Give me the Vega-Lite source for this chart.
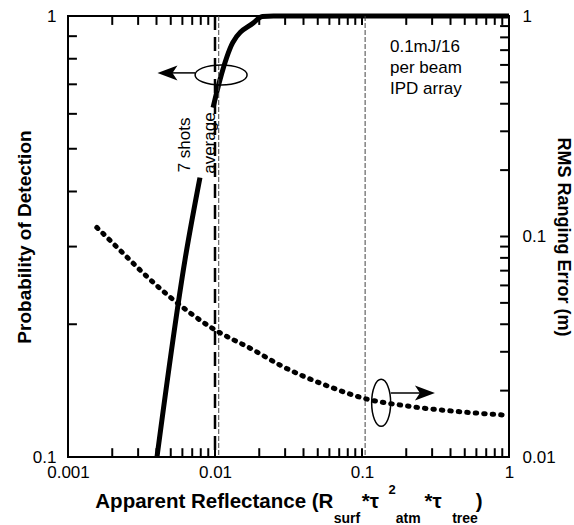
{
  "$schema": "https://vega.github.io/schema/vega-lite/v6.json",
  "width": 441,
  "height": 441,
  "autosize": {"type": "none"},
  "padding": {"left": 68, "top": 16, "right": 65, "bottom": 68},
  "background": "white",
  "config": {
    "font": "Liberation Sans",
    "view": {"stroke": "black", "strokeWidth": 2},
    "axis": {
      "domain": false,
      "ticks": false,
      "labelColor": "black",
      "labelFontSize": 17,
      "labelFont": "Liberation Sans",
      "titleFont": "Liberation Sans",
      "titleColor": "black",
      "titleFontWeight": "bold",
      "grid": false,
      "labelFlush": false,
      "labelOverlap": false
    }
  },
  "datasets": {
    "prob": [
      {"x": 0.00403, "p": 0.1, "seg": "a"},
      {"x": 0.00625, "p": 0.28, "seg": "a"},
      {"x": 0.0079, "p": 0.43, "seg": "a"},
      {"x": 0.0097, "p": 0.62, "seg": "b"},
      {"x": 0.0108, "p": 0.716, "seg": "b"},
      {"x": 0.0132, "p": 0.87, "seg": "b"},
      {"x": 0.0182, "p": 0.964, "seg": "b"},
      {"x": 0.021, "p": 0.997, "seg": "b"},
      {"x": 0.025, "p": 1, "seg": "b"},
      {"x": 1, "p": 1, "seg": "b"}
    ],
    "rms": [
      {"x": 0.00157, "r": 0.11},
      {"x": 0.00252, "r": 0.0807},
      {"x": 0.00309, "r": 0.0705},
      {"x": 0.00494, "r": 0.0532},
      {"x": 0.0095, "r": 0.0385},
      {"x": 0.0182, "r": 0.0306},
      {"x": 0.0277, "r": 0.0261},
      {"x": 0.0605, "r": 0.0208},
      {"x": 0.1016, "r": 0.0185},
      {"x": 0.222, "r": 0.0169},
      {"x": 0.486, "r": 0.016},
      {"x": 0.925, "r": 0.0155}
    ],
    "xticks": [
      {"x": 0.002, "lo": 0.1, "hi": 0.1047, "top": 1, "tlo": 0.9545}, {"x": 0.003, "lo": 0.1, "hi": 0.1047, "top": 1, "tlo": 0.9545},
      {"x": 0.004, "lo": 0.1, "hi": 0.1047, "top": 1, "tlo": 0.9545}, {"x": 0.005, "lo": 0.1, "hi": 0.1047, "top": 1, "tlo": 0.9545},
      {"x": 0.006, "lo": 0.1, "hi": 0.1047, "top": 1, "tlo": 0.9545}, {"x": 0.007, "lo": 0.1, "hi": 0.1047, "top": 1, "tlo": 0.9545},
      {"x": 0.008, "lo": 0.1, "hi": 0.1047, "top": 1, "tlo": 0.9545}, {"x": 0.009, "lo": 0.1, "hi": 0.1047, "top": 1, "tlo": 0.9545},
      {"x": 0.01, "lo": 0.1, "hi": 0.1047, "top": 1, "tlo": 0.9545}, {"x": 0.02, "lo": 0.1, "hi": 0.1047, "top": 1, "tlo": 0.9545},
      {"x": 0.03, "lo": 0.1, "hi": 0.1047, "top": 1, "tlo": 0.9545}, {"x": 0.04, "lo": 0.1, "hi": 0.1047, "top": 1, "tlo": 0.9545},
      {"x": 0.05, "lo": 0.1, "hi": 0.1047, "top": 1, "tlo": 0.9545}, {"x": 0.06, "lo": 0.1, "hi": 0.1047, "top": 1, "tlo": 0.9545},
      {"x": 0.07, "lo": 0.1, "hi": 0.1047, "top": 1, "tlo": 0.9545}, {"x": 0.08, "lo": 0.1, "hi": 0.1047, "top": 1, "tlo": 0.9545},
      {"x": 0.09, "lo": 0.1, "hi": 0.1047, "top": 1, "tlo": 0.9545}, {"x": 0.1, "lo": 0.1, "hi": 0.1047, "top": 1, "tlo": 0.9545},
      {"x": 0.2, "lo": 0.1, "hi": 0.1047, "top": 1, "tlo": 0.9545}, {"x": 0.3, "lo": 0.1, "hi": 0.1047, "top": 1, "tlo": 0.9545},
      {"x": 0.4, "lo": 0.1, "hi": 0.1047, "top": 1, "tlo": 0.9545}, {"x": 0.5, "lo": 0.1, "hi": 0.1047, "top": 1, "tlo": 0.9545},
      {"x": 0.6, "lo": 0.1, "hi": 0.1047, "top": 1, "tlo": 0.9545}, {"x": 0.7, "lo": 0.1, "hi": 0.1047, "top": 1, "tlo": 0.9545},
      {"x": 0.8, "lo": 0.1, "hi": 0.1047, "top": 1, "tlo": 0.9545}, {"x": 0.9, "lo": 0.1, "hi": 0.1047, "top": 1, "tlo": 0.9545}
    ],
    "pticks": [
      {"p": 0.2, "a": 0.001, "b": 0.00115}, {"p": 0.3, "a": 0.001, "b": 0.00115}, {"p": 0.4, "a": 0.001, "b": 0.00115},
      {"p": 0.5, "a": 0.001, "b": 0.00115}, {"p": 0.6, "a": 0.001, "b": 0.00115}, {"p": 0.7, "a": 0.001, "b": 0.00115},
      {"p": 0.8, "a": 0.001, "b": 0.00115}, {"p": 0.9, "a": 0.001, "b": 0.00115}
    ],
    "rticks": [
      {"r": 0.02, "a": 1, "b": 0.87}, {"r": 0.03, "a": 1, "b": 0.87}, {"r": 0.04, "a": 1, "b": 0.87}, {"r": 0.05, "a": 1, "b": 0.87},
      {"r": 0.06, "a": 1, "b": 0.87}, {"r": 0.07, "a": 1, "b": 0.87}, {"r": 0.08, "a": 1, "b": 0.87}, {"r": 0.09, "a": 1, "b": 0.87},
      {"r": 0.1, "a": 1, "b": 0.87}, {"r": 0.2, "a": 1, "b": 0.87}, {"r": 0.3, "a": 1, "b": 0.87}, {"r": 0.4, "a": 1, "b": 0.87},
      {"r": 0.5, "a": 1, "b": 0.87}, {"r": 0.6, "a": 1, "b": 0.87}, {"r": 0.7, "a": 1, "b": 0.87}, {"r": 0.8, "a": 1, "b": 0.87},
      {"r": 0.9, "a": 1, "b": 0.87}
    ]
  },
  "layer": [
    {
      "layer": [
        {
          "data": {"name": "prob"},
          "mark": {"type": "line", "color": "black", "strokeWidth": 5, "interpolate": "monotone"},
          "encoding": {
            "x": {
              "field": "x", "type": "quantitative",
              "scale": {"type": "log", "domain": [0.001, 1]},
              "axis": {
                "orient": "bottom",
                "values": [0.001, 0.01, 0.1, 1],
                "format": "~g",
                "labelPadding": 7,
                "title": "Apparent Reflectance (R\u00a0\u00a0\u00a0\u00a0\u00a0*τ\u00a0\u00a0\u00a0\u00a0\u00a0\u00a0\u00a0\u00a0*τ\u00a0\u00a0\u00a0\u00a0\u00a0\u00a0)",
                "titleFontSize": 20.5,
                "titlePadding": 11
              }
            },
            "y": {
              "field": "p", "type": "quantitative",
              "scale": {"type": "log", "domain": [0.1, 1]},
              "axis": {
                "orient": "left",
                "values": [0.1, 1],
                "format": "~g",
                "labelPadding": 12,
                "title": "Probability of Detection",
                "titleFontSize": 19,
                "titlePadding": -2
              }
            },
            "detail": {"field": "seg", "type": "nominal"}
          }
        },
        {
          "data": {"name": "xticks"},
          "mark": {"type": "rule", "color": "black", "strokeWidth": 2},
          "encoding": {
            "x": {"field": "x", "type": "quantitative", "scale": {"type": "log", "domain": [0.001, 1]}},
            "y": {"field": "lo", "type": "quantitative", "scale": {"type": "log", "domain": [0.1, 1]}},
            "y2": {"field": "hi"}
          }
        },
        {
          "data": {"name": "xticks"},
          "mark": {"type": "rule", "color": "black", "strokeWidth": 2},
          "encoding": {
            "x": {"field": "x", "type": "quantitative", "scale": {"type": "log", "domain": [0.001, 1]}},
            "y": {"field": "top", "type": "quantitative", "scale": {"type": "log", "domain": [0.1, 1]}},
            "y2": {"field": "tlo"}
          }
        },
        {
          "data": {"name": "pticks"},
          "mark": {"type": "rule", "color": "black", "strokeWidth": 2},
          "encoding": {
            "y": {"field": "p", "type": "quantitative", "scale": {"type": "log", "domain": [0.1, 1]}},
            "x": {"field": "a", "type": "quantitative", "scale": {"type": "log", "domain": [0.001, 1]}},
            "x2": {"field": "b"}
          }
        },
        {
          "data": {"values": [{"x": 0.01}]},
          "mark": {"type": "rule", "color": "black", "strokeWidth": 2.5, "strokeDash": [14, 7]},
          "encoding": {
            "x": {"field": "x", "type": "quantitative", "scale": {"type": "log", "domain": [0.001, 1]}}
          }
        },
        {
          "data": {"values": [{"x": 0.0106}, {"x": 0.105}]},
          "mark": {"type": "rule", "color": "#444444", "strokeWidth": 1, "strokeDash": [5, 2]},
          "encoding": {
            "x": {"field": "x", "type": "quantitative", "scale": {"type": "log", "domain": [0.001, 1]}}
          }
        },
        {
          "data": {"values": [{"x": 0.011, "p": 0.735}]},
          "mark": {
            "type": "point", "filled": false, "color": "black", "opacity": 1, "strokeWidth": 1.5, "size": 2704,
            "shape": "M 1 0 C 1 0.2126 0.5523 0.385 0 0.385 C -0.5523 0.385 -1 0.2126 -1 0 C -1 -0.2126 -0.5523 -0.385 0 -0.385 C 0.5523 -0.385 1 -0.2126 1 0 Z"
          },
          "encoding": {
            "x": {"field": "x", "type": "quantitative", "scale": {"type": "log", "domain": [0.001, 1]}},
            "y": {"field": "p", "type": "quantitative", "scale": {"type": "log", "domain": [0.1, 1]}}
          }
        },
        {
          "data": {"values": [{"x": 0.00731, "x2": 0.0046, "p": 0.743}]},
          "mark": {"type": "rule", "color": "black", "strokeWidth": 1.5},
          "encoding": {
            "x": {"field": "x", "type": "quantitative", "scale": {"type": "log", "domain": [0.001, 1]}},
            "x2": {"field": "x2"},
            "y": {"field": "p", "type": "quantitative", "scale": {"type": "log", "domain": [0.1, 1]}}
          }
        },
        {
          "data": {"values": [{"x": 0.00475, "p": 0.743}]},
          "mark": {
            "type": "point", "filled": true, "color": "black", "opacity": 1, "size": 400,
            "shape": "M -1 0 L 1 -0.75 L 0.5 0 L 1 0.75 Z"
          },
          "encoding": {
            "x": {"field": "x", "type": "quantitative", "scale": {"type": "log", "domain": [0.001, 1]}},
            "y": {"field": "p", "type": "quantitative", "scale": {"type": "log", "domain": [0.1, 1]}}
          }
        },
        {
          "data": {"values": [{"x": 0.00625, "p": 0.51, "t": "7 shots"}, {"x": 0.00924, "p": 0.515, "t": "average"}]},
          "mark": {"type": "text", "angle": 270, "align": "center", "baseline": "middle", "fontSize": 17, "color": "black", "font": "Liberation Sans"},
          "encoding": {
            "x": {"field": "x", "type": "quantitative", "scale": {"type": "log", "domain": [0.001, 1]}},
            "y": {"field": "p", "type": "quantitative", "scale": {"type": "log", "domain": [0.1, 1]}},
            "text": {"field": "t"}
          }
        },
        {
          "data": {"values": [{"x": 0.155, "p": 0.888, "t": "0.1mJ/16\nper beam\nIPD array"}]},
          "mark": {"type": "text", "align": "left", "baseline": "top", "lineBreak": "\n", "lineHeight": 21, "fontSize": 17, "color": "black", "font": "Liberation Sans"},
          "encoding": {
            "x": {"field": "x", "type": "quantitative", "scale": {"type": "log", "domain": [0.001, 1]}},
            "y": {"field": "p", "type": "quantitative", "scale": {"type": "log", "domain": [0.1, 1]}},
            "text": {"field": "t"}
          }
        },
        {
          "data": {"values": [{"x": 0.079, "t": "surf"}, {"x": 0.206, "t": "atm"}, {"x": 0.502, "t": "tree"}]},
          "mark": {"type": "text", "align": "center", "baseline": "middle", "dy": 62, "fontSize": 14, "fontWeight": "bold", "color": "black", "font": "Liberation Sans"},
          "encoding": {
            "x": {"field": "x", "type": "quantitative", "scale": {"type": "log", "domain": [0.001, 1]}},
            "y": {"datum": 0.1, "type": "quantitative", "scale": {"type": "log", "domain": [0.1, 1]}},
            "text": {"field": "t"}
          }
        },
        {
          "data": {"values": [{"x": 0.16, "t": "2"}]},
          "mark": {"type": "text", "align": "center", "baseline": "middle", "dy": 33, "fontSize": 13, "fontWeight": "bold", "color": "black", "font": "Liberation Sans"},
          "encoding": {
            "x": {"field": "x", "type": "quantitative", "scale": {"type": "log", "domain": [0.001, 1]}},
            "y": {"datum": 0.1, "type": "quantitative", "scale": {"type": "log", "domain": [0.1, 1]}},
            "text": {"field": "t"}
          }
        }
      ]
    },
    {
      "layer": [
        {
          "data": {"name": "rms"},
          "mark": {"type": "line", "color": "black", "strokeWidth": 5, "strokeCap": "round", "strokeDash": [1.5, 7], "interpolate": "monotone"},
          "encoding": {
            "x": {
              "field": "x", "type": "quantitative",
              "scale": {"type": "log", "domain": [0.001, 1]},
              "axis": null
            },
            "y": {
              "field": "r", "type": "quantitative",
              "scale": {"type": "log", "domain": [0.01, 1]},
              "axis": {
                "orient": "right",
                "values": [0.01, 0.1, 1],
                "format": "~g",
                "labelPadding": 13,
                "title": "RMS Ranging Error (m)",
                "titleFontSize": 18,
                "titlePadding": -2
              }
            }
          }
        },
        {
          "data": {"name": "rticks"},
          "mark": {"type": "rule", "color": "black", "strokeWidth": 2},
          "encoding": {
            "y": {"field": "r", "type": "quantitative", "scale": {"type": "log", "domain": [0.01, 1]}},
            "x": {"field": "a", "type": "quantitative", "scale": {"type": "log", "domain": [0.001, 1]}},
            "x2": {"field": "b"}
          }
        },
        {
          "data": {"values": [{"x": 0.135, "r": 0.0176}]},
          "mark": {
            "type": "point", "filled": false, "color": "black", "opacity": 1, "strokeWidth": 1.5, "size": 2209,
            "shape": "M 0.404 0 C 0.404 0.5523 0.2231 1 0 1 C -0.2231 1 -0.404 0.5523 -0.404 0 C -0.404 -0.5523 -0.2231 -1 0 -1 C 0.2231 -1 0.404 -0.5523 0.404 0 Z"
          },
          "encoding": {
            "x": {"field": "x", "type": "quantitative", "scale": {"type": "log", "domain": [0.001, 1]}},
            "y": {"field": "r", "type": "quantitative", "scale": {"type": "log", "domain": [0.01, 1]}}
          }
        },
        {
          "data": {"values": [{"x": 0.157, "x2": 0.281, "r": 0.0195}]},
          "mark": {"type": "rule", "color": "black", "strokeWidth": 1.5},
          "encoding": {
            "x": {"field": "x", "type": "quantitative", "scale": {"type": "log", "domain": [0.001, 1]}},
            "x2": {"field": "x2"},
            "y": {"field": "r", "type": "quantitative", "scale": {"type": "log", "domain": [0.01, 1]}}
          }
        },
        {
          "data": {"values": [{"x": 0.268, "r": 0.0195}]},
          "mark": {
            "type": "point", "filled": true, "color": "black", "opacity": 1, "size": 400,
            "shape": "M 1 0 L -1 -0.75 L -0.5 0 L -1 0.75 Z"
          },
          "encoding": {
            "x": {"field": "x", "type": "quantitative", "scale": {"type": "log", "domain": [0.001, 1]}},
            "y": {"field": "r", "type": "quantitative", "scale": {"type": "log", "domain": [0.01, 1]}}
          }
        }
      ]
    }
  ],
  "resolve": {"scale": {"y": "independent"}, "axis": {"x": "independent", "y": "independent"}}
}
